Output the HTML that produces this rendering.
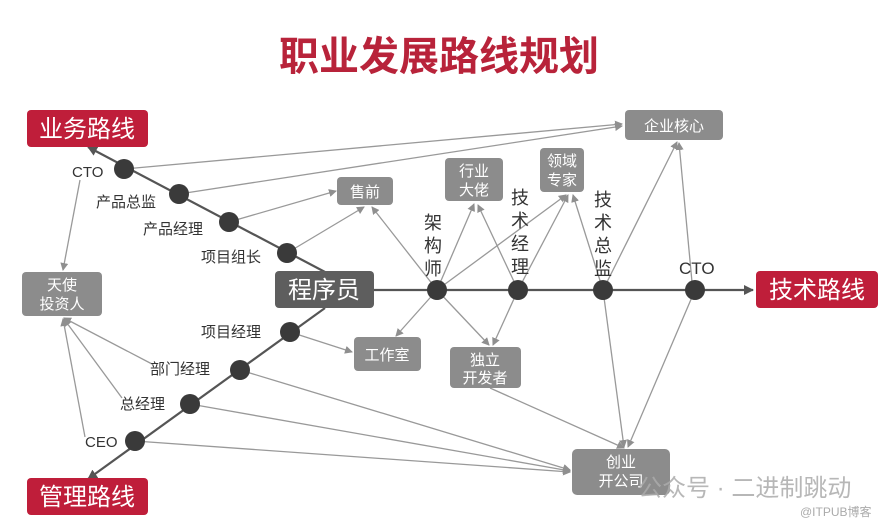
<!DOCTYPE html>
<html><head><meta charset="utf-8"><style>
html,body{margin:0;padding:0;background:#fff;}
svg{display:block;font-family:"Liberation Sans","Noto Sans CJK SC",sans-serif;}
</style></head><body>
<svg width="889" height="522" viewBox="0 0 889 522" xmlns="http://www.w3.org/2000/svg">
<defs>
<marker id="a" markerWidth="8" markerHeight="8" refX="7" refY="4" orient="auto" markerUnits="userSpaceOnUse"><path d="M0,0 L8,4 L0,8 Z" fill="#8f8f8f"/></marker>
<marker id="d" markerWidth="10" markerHeight="10" refX="9" refY="5" orient="auto" markerUnits="userSpaceOnUse"><path d="M0,0 L10,5 L0,10 Z" fill="#555"/></marker>
</defs>
<text x="439" y="70" text-anchor="middle" font-size="40" font-weight="bold" fill="#b8233a" font-family="'Noto Sans CJK SC',sans-serif">职业发展路线规划</text>

<!-- gray connectors -->
<g stroke="#999" stroke-width="1.3" fill="none" marker-end="url(#a)">
<line x1="124" y1="169" x2="622" y2="124"/>
<line x1="179" y1="194" x2="622" y2="126"/>
<line x1="229" y1="222" x2="336" y2="191"/>
<line x1="287" y1="253" x2="364" y2="207"/>
<line x1="437" y1="290" x2="372" y2="207"/>
<line x1="437" y1="290" x2="474" y2="204"/>
<line x1="437" y1="290" x2="566" y2="195"/>
<line x1="518" y1="290" x2="478" y2="205"/>
<line x1="518" y1="290" x2="568" y2="195"/>
<line x1="603" y1="290" x2="573" y2="195"/>
<line x1="603" y1="290" x2="677" y2="142"/>
<line x1="692" y1="282" x2="679" y2="143"/>
<line x1="437" y1="290" x2="396" y2="336"/>
<line x1="437" y1="290" x2="489" y2="345"/>
<line x1="518" y1="290" x2="493" y2="345"/>
<line x1="290" y1="332" x2="352" y2="352"/>
<line x1="603" y1="290" x2="624" y2="447"/>
<line x1="695" y1="290" x2="628" y2="447"/>
<line x1="490" y1="388" x2="624" y2="448"/>
<line x1="240" y1="370" x2="570" y2="470"/>
<line x1="190" y1="404" x2="570" y2="471"/>
<line x1="135" y1="441" x2="570" y2="472"/>
<line x1="80" y1="180" x2="63" y2="270"/>
<line x1="152" y1="364" x2="64" y2="318"/>
<line x1="122" y1="398" x2="64" y2="319"/>
<line x1="85" y1="437" x2="63" y2="319"/>
</g>
<!-- dark main lines -->
<g stroke="#555" stroke-width="2.2" fill="none" marker-end="url(#d)">
<line x1="325" y1="272" x2="88" y2="147"/>
<line x1="325" y1="308" x2="88" y2="479"/>
<line x1="374" y1="290" x2="753" y2="290"/>
</g>

<!-- red boxes -->
<g fill="#bf1e3a">
<rect x="27" y="110" width="121" height="37" rx="4"/>
<rect x="27" y="478" width="121" height="37" rx="4"/>
<rect x="756" y="271" width="122" height="37" rx="4"/>
</g>
<g fill="#fff" font-size="24" text-anchor="middle">
<text x="87" y="137">业务路线</text>
<text x="87" y="505">管理路线</text>
<text x="817" y="298">技术路线</text>
</g>

<!-- gray boxes -->
<g fill="#8c8c8c">
<rect x="625" y="110" width="98" height="30" rx="4"/>
<rect x="337" y="177" width="56" height="28" rx="4"/>
<rect x="445" y="158" width="58" height="43" rx="4"/>
<rect x="540" y="148" width="44" height="44" rx="4"/>
<rect x="22" y="272" width="80" height="44" rx="4"/>
<rect x="354" y="337" width="67" height="34" rx="4"/>
<rect x="450" y="347" width="71" height="41" rx="4"/>
<rect x="572" y="449" width="98" height="46" rx="5"/>
</g>
<rect x="275" y="271" width="99" height="37" rx="4" fill="#5e5e5e"/>
<text x="324" y="298" fill="#fff" font-size="24" text-anchor="middle">程序员</text>
<g fill="#fff" font-size="15" text-anchor="middle">
<text x="674" y="131">企业核心</text>
<text x="365" y="197">售前</text>
<text x="474" y="176">行业</text><text x="474" y="195">大佬</text>
<text x="562" y="166">领域</text><text x="562" y="185">专家</text>
<text x="62" y="290">天使</text><text x="62" y="309">投资人</text>
<text x="387" y="360">工作室</text>
<text x="485" y="365">独立</text><text x="485" y="383">开发者</text>
<text x="621" y="467">创业</text><text x="621" y="486">开公司</text>
</g>

<!-- nodes -->
<g fill="#3a3a3a">
<circle cx="124" cy="169" r="10"/><circle cx="179" cy="194" r="10"/>
<circle cx="229" cy="222" r="10"/><circle cx="287" cy="253" r="10"/>
<circle cx="290" cy="332" r="10"/><circle cx="240" cy="370" r="10"/>
<circle cx="190" cy="404" r="10"/><circle cx="135" cy="441" r="10"/>
<circle cx="437" cy="290" r="10"/><circle cx="518" cy="290" r="10"/>
<circle cx="603" cy="290" r="10"/><circle cx="695" cy="290" r="10"/>
</g>

<!-- labels -->
<g fill="#333" font-size="15">
<text x="72" y="177">CTO</text>
<text x="96" y="207">产品总监</text>
<text x="143" y="234">产品经理</text>
<text x="201" y="262">项目组长</text>
<text x="201" y="337">项目经理</text>
<text x="150" y="374">部门经理</text>
<text x="120" y="409">总经理</text>
<text x="85" y="447">CEO</text>
<text x="679" y="274" font-size="17">CTO</text>
</g>
<g fill="#333" font-size="18" text-anchor="middle">
<text x="433" y="229">架</text><text x="433" y="252">构</text><text x="433" y="275">师</text>
<text x="520" y="204">技</text><text x="520" y="227">术</text><text x="520" y="250">经</text><text x="520" y="273">理</text>
<text x="603" y="206">技</text><text x="603" y="229">术</text><text x="603" y="252">总</text><text x="603" y="275">监</text>
</g>

<!-- watermark -->
<text x="638" y="496" font-size="24" fill="#aaa" fill-opacity="0.85">公众号 · 二进制跳动</text>
<text x="800" y="516" font-size="12" fill="#aaa">@ITPUB博客</text>
</svg>
</body></html>
